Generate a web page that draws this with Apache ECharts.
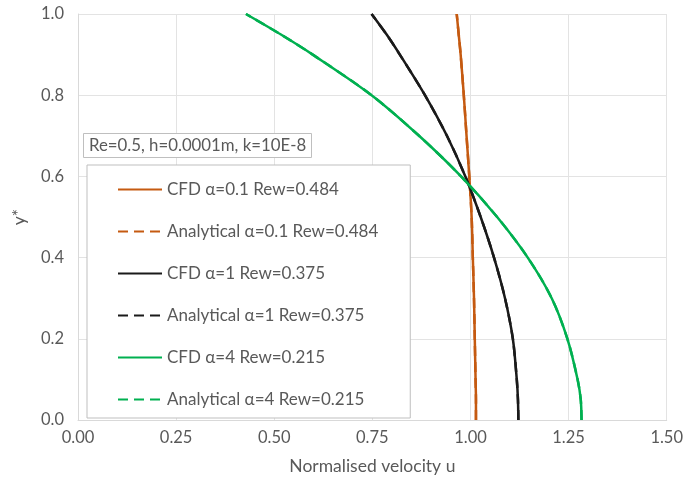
<!DOCTYPE html>
<html lang="en">
<head>
    <meta charset="UTF-8">
    <title>Normalised velocity profiles</title>
    <script src="https://cdn.jsdelivr.net/npm/echarts@6.0.0/dist/echarts.min.js"></script>
    <style>
        html, body { margin: 0; padding: 0; background: #fff; }
        #chart { width: 686px; height: 480px; }
    </style>
</head>
<body>
    <div id="chart"></div>

    <script>
        // y* positions across the channel
        const yStar = [0, 0.05, 0.1, 0.2, 0.3, 0.4, 0.5, 0.6, 0.7, 0.8, 0.9, 0.95, 1.0];

        // normalised velocity (CFD and analytical overlap)
        const uAlpha01 = [1.014, 1.014, 1.013, 1.011, 1.009, 1.006, 1.003, 0.997, 0.990, 0.983, 0.975, 0.970, 0.965];
        const uAlpha1  = [1.122, 1.121, 1.118, 1.108, 1.088, 1.060, 1.026, 0.987, 0.940, 0.884, 0.820, 0.786, 0.748];
        const uAlpha4  = [1.283, 1.281, 1.273, 1.247, 1.207, 1.146, 1.068, 0.976, 0.869, 0.748, 0.598, 0.516, 0.428];

        const seriesNames = [
            'CFD α=0.1 Rew=0.484',
            'Analytical α=0.1 Rew=0.484',
            'CFD α=1 Rew=0.375',
            'Analytical α=1 Rew=0.375',
            'CFD α=4 Rew=0.215',
            'Analytical α=4 Rew=0.215'
        ];
        const seriesValues = [uAlpha01, uAlpha01, uAlpha1, uAlpha1, uAlpha4, uAlpha4];
        const seriesColors = ['#C55A11', '#C55A11', '#1a1a1a', '#1a1a1a', '#00B050', '#00B050'];

        const xTicks = ['0.00', '0.25', '0.50', '0.75', '1.00', '1.25', '1.50'];
        const yTicks = ['0.0', '0.2', '0.4', '0.6', '0.8', '1.0'];

        const chart = echarts.init(document.getElementById('chart'));
        const textColor = '#595959';
        const font = 'Lato, "Open Sans", sans-serif';

        const series = seriesNames.map((name, i) => ({
            name: name,
            type: 'line',
            showSymbol: false,
            symbol: 'none',
            smooth: 0.3,
            color: seriesColors[i],
            lineStyle: {
                width: 2.5,
                color: seriesColors[i],
                type: i % 2 === 1 ? [10, 6] : 'solid'
            },
            data: yStar.map((y, k) => [seriesValues[i][k], y])
        }));

        chart.setOption({
            animation: false,
            textStyle: { fontFamily: font },
            title: {
                text: 'Re=0.5, h=0.0001m, k=10E-8',
                left: 83,
                top: 133,
                padding: [4, 6, 4, 6],
                borderColor: '#bfbfbf',
                borderWidth: 1,
                backgroundColor: '#fff',
                textStyle: { fontSize: 16.8, fontWeight: 'normal', color: textColor, fontFamily: font }
            },
            legend: {
                orient: 'vertical',
                left: 87,
                top: 165,
                padding: [16, 32, 10, 30],
                itemWidth: 44,
                itemHeight: 14,
                itemGap: 25,
                borderColor: '#bfbfbf',
                borderWidth: 1,
                backgroundColor: '#fff',
                itemStyle: { opacity: 0 },
                textStyle: { fontSize: 17, color: textColor, fontFamily: font },
                data: seriesNames
            },
            grid: { left: 78, right: 18, top: 14, bottom: 58 },
            xAxis: {
                type: 'value',
                min: 0,
                max: 1.5,
                interval: 0.25,
                name: 'Normalised velocity u',
                nameLocation: 'middle',
                nameGap: 37,
                nameTextStyle: { fontSize: 17.5, color: textColor },
                axisLine: { show: true, lineStyle: { color: '#d9d9d9', width: 1 } },
                axisTick: { show: false },
                axisLabel: {
                    fontSize: 16.5,
                    color: textColor,
                    margin: 9,
                    formatter: v => xTicks[Math.round(v / 0.25)]
                },
                splitLine: { show: true, lineStyle: { color: '#e3e3e3', width: 1 } }
            },
            yAxis: {
                type: 'value',
                min: 0,
                max: 1.0,
                interval: 0.2,
                name: 'y*',
                nameLocation: 'middle',
                nameGap: 50,
                nameRotate: 90,
                nameTextStyle: { fontSize: 17.5, color: textColor },
                axisLine: { show: true, lineStyle: { color: '#d9d9d9', width: 1 } },
                axisTick: { show: false },
                axisLabel: {
                    fontSize: 16.5,
                    color: textColor,
                    margin: 14,
                    formatter: v => yTicks[Math.round(v / 0.2)]
                },
                splitLine: { show: true, lineStyle: { color: '#e3e3e3', width: 1 } }
            },
            series: series
        });
    </script>
</body>
</html>
